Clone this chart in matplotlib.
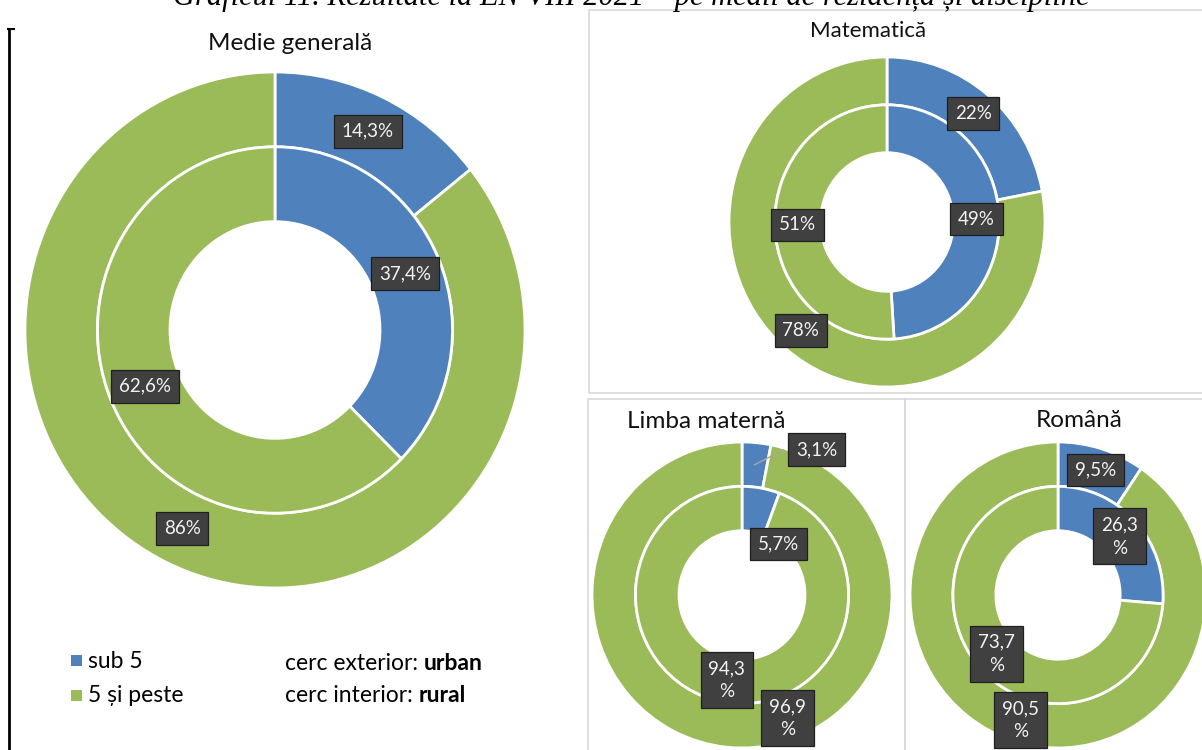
import matplotlib
matplotlib.use("Agg")
import matplotlib.pyplot as plt
from matplotlib.patches import Rectangle
from matplotlib.lines import Line2D
import numpy as np

# ---------------- data ----------------
categories = ["sub 5", "5 și peste"]
panel_titles = ["Medie generală", "Matematică", "Limba maternă", "Română"]
urban_sub5 = [14.3, 22.0, 3.1, 9.5]
urban_peste = [85.7, 78.0, 96.9, 90.5]
rural_sub5 = [37.4, 49.0, 5.7, 26.3]
rural_peste = [62.6, 51.0, 94.3, 73.7]
urban_labels = [["14,3%", "86%"], ["22%", "78%"], ["3,1%", "96,9\n%"], ["9,5%", "90,5\n%"]]
rural_labels = [["37,4%", "62,6%"], ["49%", "51%"], ["5,7%", "94,3\n%"], ["26,3\n%", "73,7\n%"]]
main_title = "Graficul 11. Rezultate la EN VIII 2021 – pe medii de rezidență și discipline"

# ---------------- style ----------------
W, H = 1202, 750
BLUE = "#4F81BD"
GREEN = "#9BBB59"
BOXC = "#404040"
FONT = "Lato"
plt.rcParams["font.family"] = [FONT, "DejaVu Sans"]

fig = plt.figure(figsize=(W / 100, H / 100), dpi=100)


def fx(x):
    return x / W


def fy(y):
    return 1 - y / H


def add_rect(x0, y0, x1, y1, color="#D9D9D9", lw=1.2):
    fig.add_artist(Rectangle((fx(x0), fy(y1)), fx(x1) - fx(x0), fy(y0) - fy(y1),
                             transform=fig.transFigure, fill=False, ec=color, lw=lw))


# panel frames
add_rect(589, 10, 1210, 393)
add_rect(588, 399, 905, 760)
add_rect(905, 399, 1210, 760)
# left black border
fig.add_artist(Line2D([fx(9), fx(9)], [fy(29), fy(752)], transform=fig.transFigure, color="black", lw=2))
fig.add_artist(Line2D([fx(8), fx(14)], [fy(29), fy(29)], transform=fig.transFigure, color="black", lw=1.5))

# main title (cut off at top, as in the source)
fig.text(0.525, fy(5), main_title, ha="center", va="baseline", fontsize=22,
         family="Liberation Serif", style="italic")

# panel geometry (pixel): cx, cy, rx, ry, title x, title y, title size
panels = [
    (275, 330, 250, 258, 290, 43, 17.5),
    (887, 222, 158, 165, 868, 31, 16),
    (742, 595, 150, 153, 706, 422, 17.5),
    (1058, 595, 148, 153, 1079, 420, 17.5),
]
R_OUT, R_MID, R_IN = 1.0, 0.71, 0.42
LABEL_FS = 13.5
# manual label nudges (pixels) for crowded panel
nudges = {(2, "u", 0): (62, -15), (2, "r", 0): (21, 34), (2, "u", 1): (58, -7)}


def place(ax, w, r, txt, key, rx, ry, leader=False):
    ang = np.deg2rad((w.theta1 + w.theta2) / 2)
    x, y = r * np.cos(ang), r * np.sin(ang)
    dx, dy = nudges.get(key, (0, 0))
    tx, ty = x + dx / rx, y - dy / ry
    if leader:
        ax.plot([x, tx - 0.22], [y, ty], color="#A6A6A6", lw=1, zorder=3)
    ax.text(tx, ty, txt, ha="center", va="center", color="#F2F2F2", fontsize=LABEL_FS,
            linespacing=1.45, zorder=5,
            bbox=dict(boxstyle="square,pad=0.42", fc=BOXC, ec="#1f1f1f", lw=0.9))


for i, (cx, cy, rx, ry, tx, ty, tfs) in enumerate(panels):
    ax = fig.add_axes([fx(cx - rx), fy(cy + ry), 2 * rx / W, 2 * ry / H])
    wo, _ = ax.pie([urban_sub5[i], urban_peste[i]], colors=[BLUE, GREEN], radius=R_OUT,
                   startangle=90, counterclock=False,
                   wedgeprops=dict(width=R_OUT - R_MID, edgecolor="white", linewidth=2))
    wi, _ = ax.pie([rural_sub5[i], rural_peste[i]], colors=[BLUE, GREEN], radius=R_MID,
                   startangle=90, counterclock=False,
                   wedgeprops=dict(width=R_MID - R_IN, edgecolor="white", linewidth=2))
    ax.set_aspect("auto")
    ax.set_xlim(-1, 1)
    ax.set_ylim(-1, 1)
    r_o = (R_OUT + R_MID) / 2
    r_i = (R_MID + R_IN) / 2
    for j in range(2):
        place(ax, wo[j], r_o, urban_labels[i][j], (i, "u", j), rx, ry,
              leader=(i == 2 and j == 0))
        place(ax, wi[j], r_i, rural_labels[i][j], (i, "r", j), rx, ry)
    fig.text(fx(tx), fy(ty), panel_titles[i], ha="center", va="center", fontsize=tfs,
             color="#111111")

# legend
for k, (lab, col) in enumerate(zip(categories, [BLUE, GREEN])):
    yy = 661 + k * 35
    fig.add_artist(Rectangle((fx(71), fy(yy + 5)), 11 / W, 11 / H, transform=fig.transFigure,
                             fc=col, ec="none"))
    fig.text(fx(88), fy(yy), lab, ha="left", va="center", fontsize=16.5)

fig.canvas.draw()
rend = fig.canvas.get_renderer()
for k, (a, b) in enumerate([("cerc exterior: ", "urban"), ("cerc interior: ", "rural")]):
    yy = 663 + k * 32
    t = fig.text(fx(285), fy(yy), a, ha="left", va="center", fontsize=16.5)
    bb = t.get_window_extent(rend)
    fig.text(bb.x1 / W, fy(yy), b, ha="left", va="center", fontsize=16.5, weight="bold")

fig.savefig("out.png", dpi=100)
